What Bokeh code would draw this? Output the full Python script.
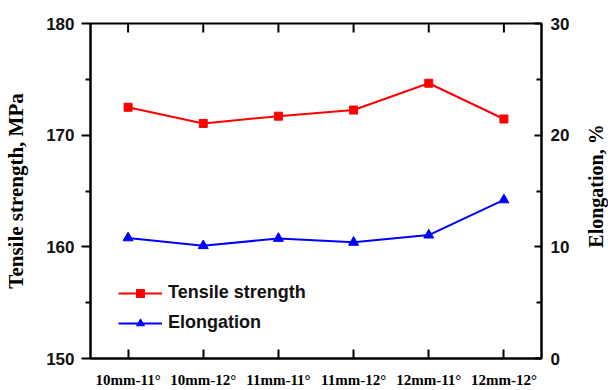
import math
from bokeh.plotting import figure
from bokeh.layouts import row
from bokeh.models import (Range1d, LinearAxis, FixedTicker, Legend, LegendItem, Label)
from bokeh.embed import file_html
from bokeh.resources import INLINE

categories = ["10mm-11°", "10mm-12°", "11mm-11°", "11mm-12°", "12mm-11°", "12mm-12°"]
tensile = [172.5, 171.05, 171.7, 172.25, 174.65, 171.45]
elongation = [10.8, 10.1, 10.75, 10.4, 11.05, 14.2]
left_ticks = [150, 160, 170, 180]
left_minor = [155, 165, 175]
right_ticks = [0, 10, 20, 30]
right_minor = [5, 15, 25]

xs = list(range(len(categories)))

p = figure(width=583, height=390, output_backend="svg", toolbar_location=None,
           x_range=Range1d(-0.5, len(categories) - 0.5),
           y_range=Range1d(left_ticks[0], left_ticks[-1]),
           min_border_left=90, min_border_right=42, min_border_top=23, min_border_bottom=31,
           x_axis_location=None, y_axis_location=None)
p.extra_y_ranges = {"elong": Range1d(right_ticks[0], right_ticks[-1])}
p.grid.visible = False
p.outline_line_color = "black"
p.outline_line_width = 2
p.background_fill_color = "white"
p.border_fill_color = "white"

ARIAL = "Liberation Sans"
TIMES = "Liberation Serif"

# bottom axis
xb = LinearAxis(ticker=FixedTicker(ticks=xs, minor_ticks=[]),
                major_label_overrides={i: c for i, c in enumerate(categories)})
xb.major_tick_in = 9
xb.major_tick_out = 0
xb.minor_tick_in = 0
xb.minor_tick_out = 0
xb.axis_line_width = 2
xb.major_tick_line_width = 2
xb.major_label_text_font = TIMES
xb.major_label_text_font_style = "bold"
xb.major_label_text_font_size = "15px"
xb.major_label_text_color = "black"
xb.major_label_standoff = 13
p.add_layout(xb, "below")

# top frame ticks (inward), drawn as clipped vertical dashes on the top edge
p.scatter(xs, [left_ticks[-1]] * len(xs), marker="dash", angle=math.pi / 2, size=18,
          line_color="black", line_width=2)

# left axis
yl = LinearAxis(ticker=FixedTicker(ticks=left_ticks, minor_ticks=left_minor),
                axis_label="Tensile strength, MPa")
yl.major_tick_out = 9
yl.major_tick_in = 0
yl.minor_tick_out = 5
yl.minor_tick_in = 0
yl.axis_line_width = 2
yl.major_tick_line_width = 2
yl.minor_tick_line_width = 2
yl.major_label_text_font = ARIAL
yl.major_label_text_font_style = "bold"
yl.major_label_text_font_size = "17px"
yl.major_label_text_color = "#111111"
yl.major_label_standoff = 7
yl.axis_label_text_font = TIMES
yl.axis_label_text_font_style = "bold"
yl.axis_label_text_font_size = "21px"
yl.axis_label_text_color = "black"
yl.axis_label_standoff = 15
p.add_layout(yl, "left")

# right axis
yr = LinearAxis(y_range_name="elong",
                ticker=FixedTicker(ticks=right_ticks, minor_ticks=right_minor))
yr.major_tick_in = 7
yr.major_tick_out = 0
yr.minor_tick_in = 5
yr.minor_tick_out = 0
yr.axis_line_width = 2
yr.major_tick_line_width = 2
yr.minor_tick_line_width = 2
yr.major_label_text_font = ARIAL
yr.major_label_text_font_style = "bold"
yr.major_label_text_font_size = "17px"
yr.major_label_text_color = "#111111"
yr.major_label_standoff = 9
p.add_layout(yr, "right")

r1l = p.line(xs, tensile, line_color="#ff0000", line_width=2)
r1m = p.scatter(xs, tensile, marker="square", size=8, fill_color="#ff0000", line_color="#ff0000")
r2l = p.line(xs, elongation, line_color="#0000ff", line_width=2, y_range_name="elong")
r2m = p.scatter(xs, elongation, marker="triangle", size=10, fill_color="#0000ff",
                line_color="#0000ff", y_range_name="elong")

legend = Legend(items=[LegendItem(label="Tensile strength", renderers=[r1l, r1m]),
                       LegendItem(label="Elongation", renderers=[r2l, r2m])],
                location=(28, 25))
legend.border_line_color = None
legend.background_fill_alpha = 0
legend.padding = 0
legend.margin = 0
legend.spacing = 9
legend.glyph_width = 44
legend.glyph_height = 20
legend.label_height = 20
legend.label_standoff = 6
legend.label_text_font = ARIAL
legend.label_text_font_style = "bold"
legend.label_text_font_size = "18px"
legend.label_text_color = "#111111"
p.add_layout(legend, "center")

# narrow side panel holding the right-hand axis title (reads bottom to top)
side = figure(width=25, height=390, output_backend="svg", toolbar_location=None,
              x_range=Range1d(0, 1), y_range=Range1d(0, 1),
              min_border=0, min_border_left=0, min_border_right=0,
              min_border_top=0, min_border_bottom=0,
              x_axis_location=None, y_axis_location=None)
side.grid.visible = False
side.outline_line_color = None
side.background_fill_color = "white"
side.border_fill_color = "white"
side.add_layout(Label(x=0.5, y=0.515, text="Elongation, %", angle=math.pi / 2,
                      text_align="center", text_baseline="middle",
                      text_font=TIMES, text_font_style="bold", text_font_size="20px",
                      text_color="black"))

layout = row(p, side)
open("out.html", "w").write(file_html(layout, INLINE))
